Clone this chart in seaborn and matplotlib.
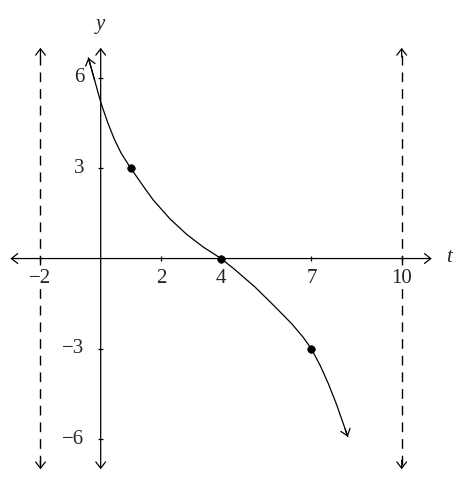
import numpy as np
import matplotlib
matplotlib.use("Agg")
import matplotlib.pyplot as plt
import pandas as pd
import seaborn as sns

# curve (t, y)
curve_t = [-0.41, -0.2, 0.0, 0.08, 0.24, 0.46, 0.68, 1.0, 1.46, 1.75, 2.3, 2.86, 3.41, 4.0,
           4.46, 5.13, 5.79, 6.35, 6.73, 7.0, 7.29, 7.56, 7.84, 8.12, 8.21]
curve_y = [6.67, 5.92, 5.2, 4.96, 4.5, 3.95, 3.5, 3.0, 2.34, 1.94, 1.32, 0.8, 0.38, 0.0,
           -0.37, -0.95, -1.6, -2.17, -2.62, -3.0, -3.55, -4.15, -4.86, -5.66, -5.92]

# marked points
pts_t = [1, 4, 7]
pts_y = [3, 0, -3]

# dashed asymptotes
asym_t = [-2, 10]

x_ticks = [-2, 2, 4, 7, 10]
x_labels = ["\u22122", "2", "4", "7", "10"]
y_ticks = [6, 3, -3, -6]
y_labels = ["6", "3", "\u22123", "\u22126"]

df = pd.DataFrame({"t": curve_t, "y": curve_y})

sns.set_style("white")
plt.rcParams["font.family"] = ["Liberation Serif", "DejaVu Serif"]

fig = plt.figure(figsize=(4.64, 4.93), dpi=100)
ax = fig.add_axes([0, 0, 1, 1])
ax.set_xlim(-3.345, 12.07)
ax.set_ylim(-7.79, 8.59)
ax.axis("off")

lw = 0.9
head = dict(arrowstyle="->,head_length=0.45,head_width=0.35", lw=lw, color="black",
            shrinkA=0, shrinkB=0)
both = dict(head, arrowstyle="<->,head_length=0.45,head_width=0.35")

# axes with arrows
ax.annotate("", xy=(-3, 0), xytext=(11, 0), arrowprops=both)
ax.annotate("", xy=(0, -7), xytext=(0, 7), arrowprops=both)

# ticks
ax.vlines(x_ticks, -0.08, 0.08, color="black", lw=lw)
ax.hlines(y_ticks, -0.08, 0.08, color="black", lw=lw)

# dashed vertical lines with arrows
ax.vlines(asym_t, -6.85, 6.85, color="black", lw=1.0, linestyles=[(0, (7, 5))])
for a in asym_t:
    ax.annotate("", xy=(a, 7), xytext=(a, 6.7), arrowprops=head)
    ax.annotate("", xy=(a, -7), xytext=(a, -6.7), arrowprops=head)

# curve
sns.lineplot(data=df, x="t", y="y", sort=False, estimator=None, color="black", lw=lw, ax=ax)
ax.annotate("", xy=(curve_t[0], curve_y[0]), xytext=(curve_t[1], curve_y[1]), arrowprops=head)
ax.annotate("", xy=(curve_t[-1], curve_y[-1]), xytext=(curve_t[-2], curve_y[-2]), arrowprops=head)

sns.scatterplot(x=pts_t, y=pts_y, color="black", s=30, edgecolor="black", zorder=5, ax=ax)

# labels
box = dict(facecolor="white", edgecolor="none", pad=0.5)
for xt, lab in zip(x_ticks, x_labels):
    ax.text(xt, -0.66, lab, ha="center", va="center", fontsize=15, bbox=box, zorder=6)
for yt, lab in zip(y_ticks, y_labels):
    ax.text(-0.55, yt, lab, ha="right", va="center", fontsize=15)
ax.text(0, 7.76, "y", ha="center", va="center", fontsize=15, style="italic")
ax.text(11.57, 0.02, "t", ha="center", va="center", fontsize=15, style="italic")

fig.savefig("out.png", dpi=100)
